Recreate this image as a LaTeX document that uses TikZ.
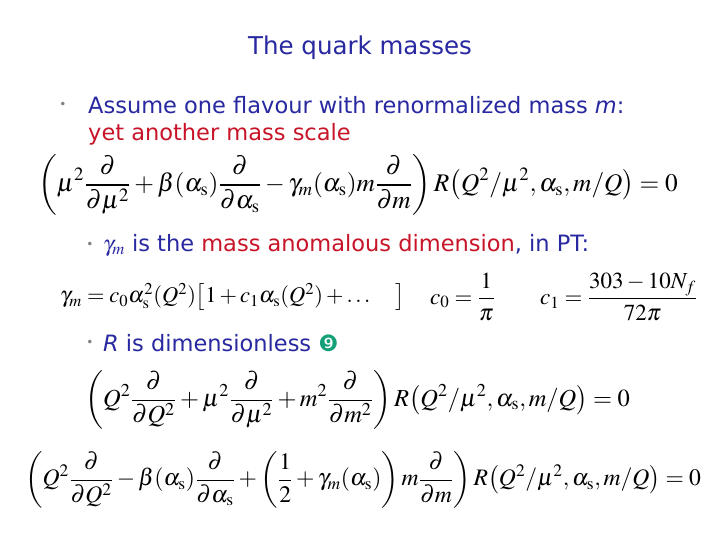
\documentclass[tikz,border=0pt]{standalone}
\usepackage{mathptmx}
\usepackage{amsmath}
\usepackage{graphicx}
\usepackage{fontspec}
\setmainfont{DejaVu Sans}
\newfontfamily\dv{DejaVu Sans}
\definecolor{tblue}{RGB}{40,40,160}
\definecolor{tred}{RGB}{200,20,40}
\definecolor{tgreen}{RGB}{20,160,120}
\tikzset{txt/.style={anchor=west,inner sep=0pt,font=\fontsize{22.5}{26}\selectfont},
 bul/.style={inner sep=0pt,text=gray,font=\fontsize{12}{12}\selectfont},
 eq/.style={anchor=west,inner sep=0pt,font=\fontsize{17}{20}\selectfont}}
\begin{document}
\begin{tikzpicture}[x=1pt,y=-1pt]
\useasboundingbox[fill=white] (0,0) rectangle (720,540);
\node[inner sep=0pt,text=tblue,font=\fontsize{24.5}{28}\selectfont] (title) at (360,48) {The quark masses};
\node[bul] (b1) at (63,105) {•};
\node[txt,text=tblue] (t1) at (88,105) {Assume one flavour with renormalized mass \textit{m}:};
\node[txt,text=tred] (t2) at (88,134) {yet another mass scale};
\node[eq] (e1) at (38,185) {\scalebox{1.49}{$\displaystyle\left(\mu^2\frac{\partial}{\partial\mu^2}+\beta(\alpha_{\mathrm s})\frac{\partial}{\partial\alpha_{\mathrm s}}-\gamma_m(\alpha_{\mathrm s})m\frac{\partial}{\partial m}\right)R\big(Q^2/\mu^2,\alpha_{\mathrm s},m/Q\big)=0$}};
\node[bul] (b2) at (90,245) {•};
\node[txt,text=tblue] (t3) at (103,245) {$\gamma_m$ is the \textcolor{tred}{mass anomalous dimension}, in PT:};
\node[eq] (e2) at (60,297) {\scalebox{1.32}{$\gamma_m=c_0\alpha_{\mathrm s}^2(Q^2)\big[1+c_1\alpha_{\mathrm s}(Q^2)+\dots\quad\big]$}};
\node[eq] (e3) at (430,297) {\scalebox{1.35}{$c_0=\dfrac{1}{\pi}$}};
\node[eq] (e4) at (540,297) {\scalebox{1.35}{$c_1=\dfrac{303-10N_f}{72\pi}$}};
\node[bul] (b3) at (90,343) {•};
\node[txt,text=tblue] (t4) at (103,343) {\textit{R} is dimensionless \textcolor{tgreen}{\dv ❾}};
\node[eq] (e5) at (85,400) {\scalebox{1.44}{$\displaystyle\left(Q^2\frac{\partial}{\partial Q^2}+\mu^2\frac{\partial}{\partial\mu^2}+m^2\frac{\partial}{\partial m^2}\right)R\big(Q^2/\mu^2,\alpha_{\mathrm s},m/Q\big)=0$}};
\node[eq] (e6) at (25,480) {\scalebox{1.39}{$\displaystyle\left(Q^2\frac{\partial}{\partial Q^2}-\beta(\alpha_{\mathrm s})\frac{\partial}{\partial\alpha_{\mathrm s}}+\left(\frac12+\gamma_m(\alpha_{\mathrm s})\right)m\frac{\partial}{\partial m}\right)R\big(Q^2/\mu^2,\alpha_{\mathrm s},m/Q\big)=0$}};
\end{tikzpicture}
\end{document}
